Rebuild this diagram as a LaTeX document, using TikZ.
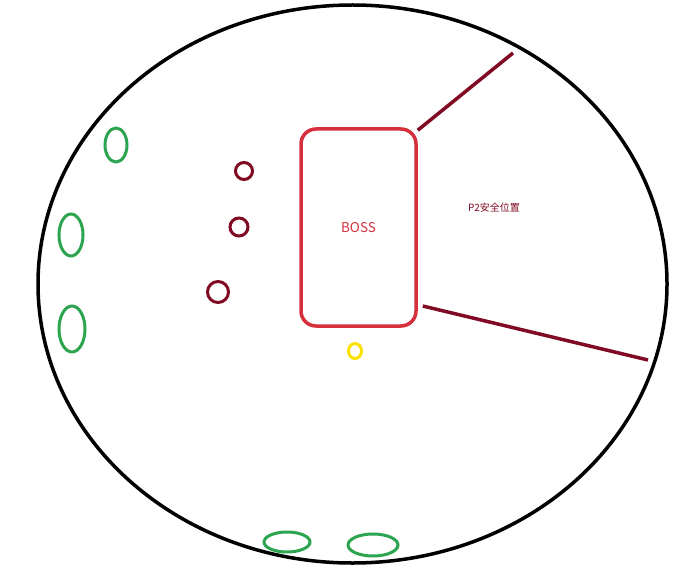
\documentclass[tikz,border=0pt]{standalone}
\usepackage{fontspec}
\newfontfamily\cjk{Noto Sans CJK SC}
\definecolor{bossred}{RGB}{214,48,60}
\definecolor{darkred}{RGB}{128,10,35}
\definecolor{mobgreen}{RGB}{45,165,80}
\definecolor{spotyellow}{RGB}{250,225,0}
\tikzset{
  arena/.style={line width=3.5pt, black},
  mob/.style={line width=3pt, mobgreen},
  add/.style={line width=3pt, darkred},
  safeline/.style={line width=3.5pt, darkred},
}
\begin{document}
\begin{tikzpicture}[x=1pt, y=-1pt]
  \useasboundingbox (0,0) rectangle (692,569);
  % arena
  \draw[arena] (352.5,284) ellipse (314.5 and 279);
  % boss
  \node[draw=bossred, line width=3.5pt, rounded corners=15pt, minimum width=115pt,
        minimum height=197pt, text=bossred, font=\cjk\fontsize{13.5}{15}\selectfont] (boss) at (358.5,227.5) {BOSS};
  \coordinate (safeA) at (513,53);
  \coordinate (safeB) at (648,360);
  \draw[safeline] ([shift={(0,3)}]boss.north east) -- (safeA);
  \draw[safeline] ([shift={(5,78.5)}]boss.east) -- (safeB);
  \node[text=darkred, font=\cjk\fontsize{10}{12}\selectfont] (safe) at (494,208) {P2安全位置};
  % adds
  \draw[add] (244,171) circle (8.5);
  \draw[add] (239,227) circle (9);
  \draw[add] (218,292) circle (10.5);
  % green mobs
  \draw[mob] (116,145) ellipse (11 and 17);
  \draw[mob] (71,235) ellipse (12 and 21);
  \draw[mob] (72,329) ellipse (13 and 23);
  \draw[mob] (287,542) ellipse (23 and 10);
  \draw[mob] (373,545) ellipse (25 and 11);
  % spot
  \draw[line width=3pt, spotyellow] (355,351) ellipse (6.5 and 7.5);
\end{tikzpicture}
\end{document}
